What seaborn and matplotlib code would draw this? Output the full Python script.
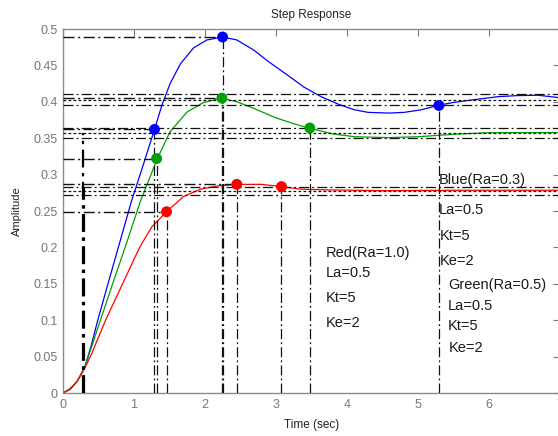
import matplotlib
matplotlib.use("Agg")
import matplotlib.pyplot as plt
import seaborn as sns
import pandas as pd

# ---- data ----
blue_t = [0, 0.1, 0.2, 0.31, 0.4, 0.49, 0.64, 0.78, 0.97, 1.13, 1.29, 1.40, 1.51, 1.655, 1.84, 2.03, 2.25,
          2.45, 2.69, 2.9, 3.16, 3.4, 3.64, 3.9, 4.11, 4.3, 4.6, 4.81, 5.05, 5.31, 5.5, 5.76, 6.13,
          6.4, 6.7, 7.0]
blue_y = [0, 0.005, 0.016, 0.036, 0.066, 0.1, 0.152, 0.2, 0.265, 0.313, 0.362, 0.397, 0.425, 0.452, 0.474,
          0.485, 0.489, 0.485, 0.471, 0.455, 0.437, 0.42, 0.407, 0.396, 0.389, 0.3855, 0.3845, 0.3855, 0.389,
          0.3956, 0.399, 0.4025, 0.407, 0.4085, 0.409, 0.4056]

green_t = [0, 0.1, 0.2, 0.31, 0.5, 0.7, 0.9, 1.09, 1.33, 1.51, 1.75, 1.98, 2.24, 2.45, 2.69, 3.0,
           3.25, 3.48, 3.8, 4.11, 4.58, 5.0, 5.52, 6.0, 7.0]
green_y = [0, 0.005, 0.016, 0.036, 0.092, 0.15, 0.207, 0.263, 0.322, 0.359, 0.386, 0.399, 0.405,
           0.400, 0.391, 0.378, 0.370, 0.3636, 0.356, 0.352, 0.3508, 0.352, 0.3554, 0.3576, 0.3578]

red_t = [0, 0.1, 0.2, 0.3, 0.4, 0.6, 0.84, 1.08, 1.25, 1.46, 1.7, 1.94, 2.17, 2.45, 2.79, 3.08, 3.35,
         3.71, 4.5, 5.5, 7.0]
red_y = [0, 0.006, 0.016, 0.033, 0.053, 0.1, 0.15, 0.2, 0.228, 0.249, 0.270, 0.280, 0.2843, 0.2866,
         0.2866, 0.2835, 0.280, 0.279, 0.278, 0.2785, 0.2785]

series_names = ["blue", "green", "red"]
series_colors = {"blue": "#0000ff", "green": "#00a000", "red": "#ff0000"}

# characteristic points: rise, peak, settling (time, value)
mark_t = {"blue": [1.29, 2.25, 5.30], "green": [1.32, 2.24, 3.48], "red": [1.46, 2.45, 3.08]}
mark_y = {"blue": [0.362, 0.489, 0.395], "green": [0.322, 0.405, 0.364], "red": [0.249, 0.2866, 0.2835]}

# steady state values and +/-2% settling band
steady = {"blue": 0.403, "green": 0.357, "red": 0.278}
band_hi = {"blue": 0.411, "green": 0.364, "red": 0.2836}
band_lo = {"blue": 0.395, "green": 0.350, "red": 0.2724}

# rise-start vertical lines (time, top)
rise_start_t = [0.28, 0.29]
rise_start_top = [0.357, 0.2836]

x_ticks = [0, 1, 2, 3, 4, 5, 6, 7]
y_ticks = [0, 0.05, 0.1, 0.15, 0.2, 0.25, 0.3, 0.35, 0.4, 0.45, 0.5]
y_tick_labels = ["0", "0.05", "0.1", "0.15", "0.2", "0.25", "0.3", "0.35", "0.4", "0.45", "0.5"]

annotations = [
    ("Blue(Ra=0.3)", 5.30, 0.293), ("La=0.5", 5.30, 0.251), ("Kt=5", 5.31, 0.215), ("Ke=2", 5.31, 0.182),
    ("Red(Ra=1.0)", 3.70, 0.192), ("La=0.5", 3.70, 0.165), ("Kt=5", 3.71, 0.131), ("Ke=2", 3.71, 0.096),
    ("Green(Ra=0.5)", 5.43, 0.148), ("La=0.5", 5.42, 0.119), ("Kt=5", 5.42, 0.092), ("Ke=2", 5.44, 0.062),
]

# ---- drawing ----
sns.set_style("white")
plt.rcParams['font.family'] = ['Liberation Sans', 'DejaVu Sans']

fig = plt.figure(figsize=(5.58, 4.36), dpi=100)
ax = fig.add_axes([63 / 558, 43 / 436, 496.5 / 558, 364 / 436])

curves = pd.concat([
    pd.DataFrame({"t": blue_t, "y": blue_y, "s": "blue"}),
    pd.DataFrame({"t": green_t, "y": green_y, "s": "green"}),
    pd.DataFrame({"t": red_t, "y": red_y, "s": "red"}),
])
sns.lineplot(data=curves, x="t", y="y", hue="s", palette=series_colors, estimator=None,
             sort=False, linewidth=0.9, legend=False, ax=ax, zorder=2)

dashdot = (0, (8, 2.5, 1.5, 2.5))
dotted = (0, (2.2, 1.8))
lc = "#111111"
for s in series_names:
    for lvl in (band_hi[s], band_lo[s]):
        ax.axhline(lvl, color=lc, lw=0.9, linestyle=dashdot, zorder=3)
    ax.axhline(steady[s], color=lc, lw=0.9, linestyle=dotted, zorder=3)
    for t, v in zip(mark_t[s], mark_y[s]):
        ax.vlines(t, 0, v, color=lc, lw=0.9, linestyles=[dashdot], zorder=3)
    # rise and peak horizontal lines from left axis to point
    for t, v in zip(mark_t[s][:2], mark_y[s][:2]):
        ax.hlines(v, 0, t, color=lc, lw=1.0, linestyles=[dashdot], zorder=3)

for t, top in zip(rise_start_t, rise_start_top):
    ax.vlines(t, 0, top, color="black", lw=1.6, linestyles=[dashdot], zorder=3)

markers = pd.concat([
    pd.DataFrame({"t": mark_t[s], "y": mark_y[s], "s": s}) for s in series_names
])
sns.scatterplot(data=markers, x="t", y="y", hue="s", palette=series_colors, s=62,
                edgecolor=None, linewidth=0, legend=False, ax=ax, zorder=5)

for txt, x, y in annotations:
    ax.text(x, y, txt, fontsize=10.5, ha="left", va="center", color="#1a1a1a", zorder=6)

ax.set_xlim(0, 7)
ax.set_ylim(0, 0.5)
ax.set_xticks(x_ticks)
ax.set_yticks(y_ticks)
ax.set_yticklabels(y_tick_labels)
ax.tick_params(direction="in", length=5, width=0.8, colors="#7a7a7a", labelsize=9,
               top=True, right=True, labelcolor="#767676", pad=4)
for sp in ax.spines.values():
    sp.set_color("#8a8a8a")
    sp.set_linewidth(1.0)
ax.set_title("Step Response", fontsize=8.5, pad=8, color="#222222")
ax.set_xlabel("Time (sec)", fontsize=8.5, labelpad=6, color="#222222")
ax.set_ylabel("Amplitude", fontsize=8, labelpad=8, color="#222222")

fig.savefig("out.png", dpi=100, facecolor="white")
